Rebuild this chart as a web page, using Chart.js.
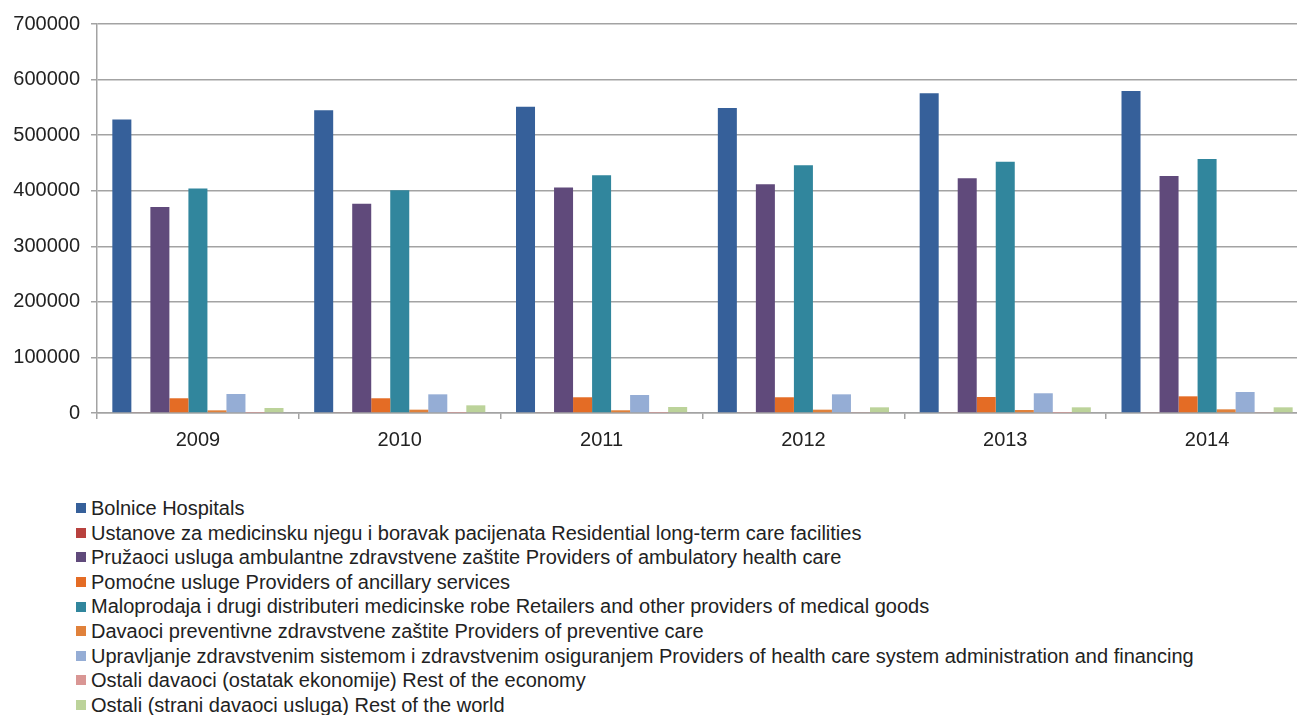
<!DOCTYPE html>
<html>
<head>
<meta charset="utf-8">
<script src="https://cdn.jsdelivr.net/npm/chart.js@4"></script>
<style>
    html, body {
        margin: 0;
        padding: 0;
        background: #ffffff;
        overflow: hidden;
        width: 1297px;
        height: 715px;
    }
    #chart-wrap {
        position: absolute;
        left: 0;
        top: 0;
        width: 1308px;
        height: 463px;
    }
    #legend {
        position: absolute;
        left: 76px;
        top: 496px;
        margin: 0;
        padding: 0;
        list-style: none;
        font-family: "Liberation Sans", Arial, sans-serif;
        font-size: 20px;
        color: #222222;
    }
    #legend li {
        height: 24.6px;
        line-height: 24.6px;
        white-space: nowrap;
        display: flex;
        align-items: center;
    }
    #legend span.box {
        display: inline-block;
        width: 10px;
        height: 10px;
        margin-right: 5px;
    }
</style>
</head>
<body>
<div id="chart-wrap"><canvas id="health-chart"></canvas></div>
<ul id="legend"></ul>
<script>
const years = ['2009', '2010', '2011', '2012', '2013', '2014'];

const hospitals = [528000, 545000, 551000, 549000, 575500, 579500];
const residential = [1500, 1500, 1200, 1200, 1200, 1200];
const ambulatory = [370800, 376500, 406000, 411500, 422500, 426500];
const ancillary = [26500, 26500, 28300, 28300, 28800, 30000];
const retailers = [404000, 400700, 427700, 445800, 452300, 457100];
const preventive = [4800, 6000, 4900, 6000, 5400, 6600];
const administration = [34200, 33600, 32400, 33600, 35500, 37800];
const restOfEconomy = [300, 300, 300, 1000, 300, 1000];
const restOfWorld = [9000, 13800, 10800, 10200, 10200, 10200];

const seriesLabels = [
    'Bolnice Hospitals',
    'Ustanove za medicinsku njegu i boravak pacijenata Residential long-term care facilities',
    'Pružaoci usluga ambulantne zdravstvene zaštite Providers of ambulatory health care',
    'Pomoćne usluge Providers of ancillary services',
    'Maloprodaja i drugi distributeri medicinske robe Retailers and other providers of medical goods',
    'Davaoci preventivne zdravstvene zaštite Providers of preventive care',
    'Upravljanje zdravstvenim sistemom i zdravstvenim osiguranjem Providers of health care system administration and financing',
    'Ostali davaoci (ostatak ekonomije) Rest of the economy',
    'Ostali (strani davaoci usluga) Rest of the world',
];
const seriesColors = ['#36609a', '#b8413e', '#604a7b', '#e46c25', '#31869d', '#e0813b', '#95add5', '#d99694', '#bcd39a'];
const yTicks = [0, 100000, 200000, 300000, 400000, 500000, 600000, 700000];

const seriesData = [hospitals, residential, ambulatory, ancillary, retailers, preventive, administration, restOfEconomy, restOfWorld];

const fontFamily = '"Liberation Sans", Arial, sans-serif';
const gridColor = '#a3a3a3';

const chart = new Chart(document.getElementById('health-chart'), {
    type: 'bar',
    data: {
        labels: years,
        datasets: seriesData.map((values, i) => ({
            label: seriesLabels[i],
            data: values,
            backgroundColor: seriesColors[i],
            borderWidth: 0,
            categoryPercentage: 0.848,
            barPercentage: 1.0,
        })),
    },
    options: {
        responsive: true,
        maintainAspectRatio: false,
        animation: false,
        layout: {
            padding: { top: 24, left: 0, right: 0, bottom: 0 },
        },
        plugins: {
            legend: { display: false },
            tooltip: { enabled: false },
        },
        scales: {
            x: {
                grid: {
                    drawOnChartArea: false,
                    drawTicks: true,
                    tickLength: 6,
                    color: gridColor,
                    lineWidth: 1.5,
                    offset: true,
                },
                border: { color: gridColor, width: 1.5 },
                ticks: {
                    color: '#222222',
                    padding: 9,
                    font: { family: fontFamily, size: 20 },
                },
                afterFit: (scale) => {
                    scale.height = 50;
                },
            },
            y: {
                min: 0,
                max: 700000,
                afterBuildTicks: (scale) => {
                    scale.ticks = yTicks.map((value) => ({ value }));
                },
                grid: {
                    color: gridColor,
                    lineWidth: 1.5,
                    tickLength: 6,
                },
                border: { color: gridColor, width: 1.5 },
                ticks: {
                    color: '#222222',
                    padding: 11,
                    font: { family: fontFamily, size: 20 },
                    callback: (value) => String(value),
                },
                afterFit: (scale) => {
                    scale.width = 97;
                },
            },
        },
    },
});

// vertical legend below the chart, one series per row
const legendList = document.getElementById('legend');
chart.data.datasets.forEach((dataset) => {
    const item = document.createElement('li');
    const box = document.createElement('span');
    box.className = 'box';
    box.style.background = dataset.backgroundColor;
    item.appendChild(box);
    item.appendChild(document.createTextNode(dataset.label));
    legendList.appendChild(item);
});
</script>
</body>
</html>
